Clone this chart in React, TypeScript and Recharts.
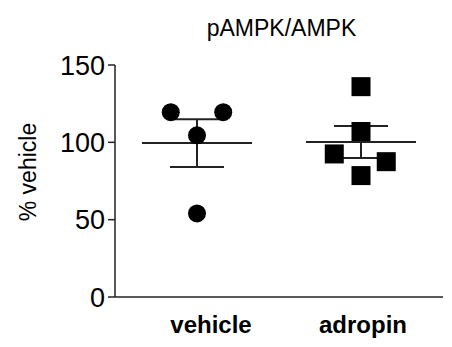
import { ScatterChart, Scatter, XAxis, YAxis, ErrorBar } from "recharts";

const groups = ["vehicle", "adropin"];
const yTicks = [0, 50, 100, 150];

// individual animals, % of vehicle
const vehicleValues = [119.5, 119.5, 104.5, 54];
const vehicleJitter = [-0.16, 0.16, 0, 0];
const adropinValues = [136, 107, 92.5, 87.5, 78.5];
const adropinJitter = [0, 0, -0.163, 0.154, 0];

// mean +/- SEM
const groupMeans = [99.5, 100.2];
const groupSem = [15.4, 10.3];

const vehicleData = vehicleValues.map((v, i) => ({ x: 0.5 + vehicleJitter[i], y: v }));
const adropinData = adropinValues.map((v, i) => ({ x: 1.5 + adropinJitter[i], y: v }));
const meanData = groupMeans.map((m, i) => ({ x: i + 0.5, y: m, sem: groupSem[i] }));

const ink = "#222";
const font = "'Liberation Sans', Arial, sans-serif";
const labelShift = [14, 2];

const Dot = (props: any) => <circle cx={props.cx} cy={props.cy} r={9} fill="#000" />;
const Square = (props: any) => (
  <rect x={props.cx - 9.5} y={props.cy - 9.5} width={19} height={19} fill="#000" />
);
const MeanLine = (props: any) => (
  <line x1={props.cx - 55} x2={props.cx + 55} y1={props.cy} y2={props.cy} stroke={ink} strokeWidth={2} />
);

const YTick = (props: any) => {
  const { x, y, payload } = props;
  return (
    <text x={x} y={y} dy="0.36em" textAnchor="end" fontFamily={font} fontSize={27} fill="#000">
      {payload.value}
    </text>
  );
};

const XTick = (props: any) => {
  const { x, payload } = props;
  const i = Math.round(payload.value - 0.5);
  return (
    <text x={x + labelShift[i]} y={333} textAnchor="middle" fontFamily={font} fontSize={24} fontWeight="bold" fill="#000">
      {groups[i]}
    </text>
  );
};

export default function App() {
  return (
    <div style={{ position: "absolute", left: 0, top: 0, width: 452, height: 347, background: "#fff" }}>
      <div
        style={{
          position: "absolute",
          left: 0,
          width: 563,
          top: 15,
          textAlign: "center",
          fontFamily: font,
          fontSize: 23,
          color: "#000",
        }}
      >
        pAMPK/AMPK
      </div>
      <div
        style={{
          position: "absolute",
          left: 28,
          top: 172,
          transform: "translate(-50%, -50%) rotate(-90deg)",
          fontFamily: font,
          fontSize: 23,
          color: "#000",
          whiteSpace: "nowrap",
        }}
      >
        % vehicle
      </div>
      <ScatterChart width={452} height={347} margin={{ top: 65, right: 9, bottom: 0, left: 0 }}>
        <XAxis
          dataKey="x"
          type="number"
          domain={[0, 2]}
          ticks={[0.5, 1.5]}
          tickLine={false}
          tick={<XTick />}
          height={50}
          stroke={ink}
          axisLine={{ stroke: ink, strokeWidth: 1.5 }}
        />
        <YAxis
          dataKey="y"
          type="number"
          domain={[0, 150]}
          ticks={yTicks}
          width={115}
          tickSize={7}
          tickMargin={3}
          tick={<YTick />}
          stroke={ink}
          axisLine={{ stroke: ink, strokeWidth: 1.5 }}
          tickLine={{ stroke: ink, strokeWidth: 1.5 }}
        />
        <Scatter data={meanData} shape={<MeanLine />} isAnimationActive={false}>
          <ErrorBar dataKey="sem" direction="y" width={27} stroke={ink} strokeWidth={2} />
        </Scatter>
        <Scatter data={vehicleData} shape={<Dot />} isAnimationActive={false} />
        <Scatter data={adropinData} shape={<Square />} isAnimationActive={false} />
      </ScatterChart>
    </div>
  );
}
